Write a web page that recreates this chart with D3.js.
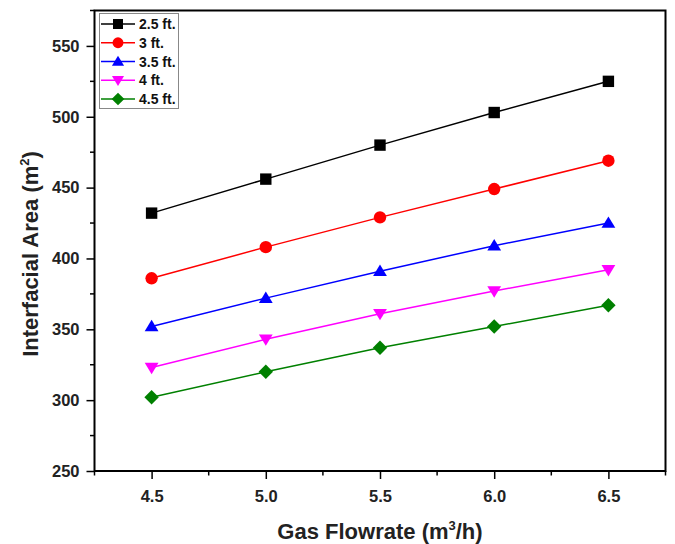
<!DOCTYPE html>
<html lang="en">
<head>
<meta charset="utf-8" />
<title>Interfacial Area vs Gas Flowrate</title>
<script src="https://cdn.jsdelivr.net/npm/d3@7"></script>
<style>
  body { margin: 0; background: #fff; }
  text { font-family: "Liberation Sans", Arial, sans-serif; font-weight: bold; }
</style>
</head>
<body>
<script>
// data
var flowrate = [4.5, 5.0, 5.5, 6.0, 6.5];
var seriesNames = ['2.5 ft.', '3 ft.', '3.5 ft.', '4 ft.', '4.5 ft.'];
var h25 = [432, 456, 480, 503, 525];
var h30 = [386, 408, 429, 449, 469];
var h35 = [352, 372, 391, 409, 425];
var h40 = [323, 343, 361, 377, 392];
var h45 = [302, 320, 337, 352, 367];
var colors = ['#000000', '#ff0000', '#0000ff', '#ff00ff', '#008000'];
var symbols = ['square', 'circle', 'up', 'down', 'diamond'];
var xTicks = [4.5, 5.0, 5.5, 6.0, 6.5];
var yTicks = [250, 300, 350, 400, 450, 500, 550];
var xMinor = [4.25, 4.75, 5.25, 5.75, 6.25, 6.75];
var yMinor = [275, 325, 375, 425, 475, 525, 575];

var allSeries = [h25, h30, h35, h40, h45];

var W = 675, H = 544;
var mL = 94.5, mR = 665.5, mT = 10.5, mB = 471;

var svg = d3.select('body').append('svg')
  .attr('width', W)
  .attr('height', H);

var x = d3.scaleLinear().domain([4.25, 6.75]).range([mL, mR]);
var y = d3.scaleLinear().domain([250, 575]).range([mB, mT]);

// minor ticks
svg.append('g').selectAll('line').data(xMinor).enter().append('line')
  .attr('x1', function(d) { return x(d); }).attr('x2', function(d) { return x(d); })
  .attr('y1', mB).attr('y2', mB + 4.5)
  .attr('stroke', '#000').attr('stroke-width', 1.5);
svg.append('g').selectAll('line').data(yMinor).enter().append('line')
  .attr('y1', function(d) { return y(d); }).attr('y2', function(d) { return y(d); })
  .attr('x1', mL).attr('x2', mL - 4.5)
  .attr('stroke', '#000').attr('stroke-width', 1.5);

var xAxis = svg.append('g')
  .attr('transform', 'translate(0,' + mB + ')')
  .call(d3.axisBottom(x).tickValues(xTicks).tickFormat(d3.format('.1f')).tickSize(8).tickPadding(11));
var yAxis = svg.append('g')
  .attr('transform', 'translate(' + mL + ',0)')
  .call(d3.axisLeft(y).tickValues(yTicks).tickSize(8).tickPadding(7));

[xAxis, yAxis].forEach(function(g) {
  g.select('.domain').remove();
  g.selectAll('line').attr('stroke-width', 1.5);
  g.selectAll('text').style('font-size', '16.5px').attr('fill', '#222');
});

// frame
svg.append('rect')
  .attr('x', mL).attr('y', mT)
  .attr('width', mR - mL).attr('height', mB - mT)
  .attr('fill', 'none').attr('stroke', '#000').attr('stroke-width', 2);

// marker shapes, r = half size
function marker(kind, r) {
  if (kind === 'square') return 'M' + (-r) + ',' + (-r) + 'H' + r + 'V' + r + 'H' + (-r) + 'Z';
  if (kind === 'circle') return d3.arc()({innerRadius: 0, outerRadius: r, startAngle: 0, endAngle: 2 * Math.PI});
  if (kind === 'up') return 'M0,' + (-r * 1.1) + 'L' + (r * 1.15) + ',' + (r * 0.8) + 'L' + (-r * 1.15) + ',' + (r * 0.8) + 'Z';
  if (kind === 'down') return 'M0,' + (r * 1.1) + 'L' + (r * 1.15) + ',' + (-r * 0.8) + 'L' + (-r * 1.15) + ',' + (-r * 0.8) + 'Z';
  var d = r * 1.2;
  return 'M0,' + (-d) + 'L' + d + ',0L0,' + d + 'L' + (-d) + ',0Z';
}
var markerSize = {square: 5.7, circle: 6.2, up: 6, down: 6, diamond: 6};

var line = d3.line()
  .x(function(d, i) { return x(flowrate[i]); })
  .y(function(d) { return y(d); });

allSeries.forEach(function(vals, k) {
  svg.append('path')
    .attr('d', line(vals))
    .attr('fill', 'none')
    .attr('stroke', colors[k])
    .attr('stroke-width', 1.5);
  svg.append('g').selectAll('path').data(vals).enter().append('path')
    .attr('d', marker(symbols[k], markerSize[symbols[k]]))
    .attr('transform', function(d, i) {
      return 'translate(' + x(flowrate[i]) + ',' + y(d) + ')';
    })
    .attr('fill', colors[k]);
});

// legend
var legend = svg.append('g');
legend.append('rect')
  .attr('x', 99.5).attr('y', 13.5).attr('width', 79).attr('height', 95)
  .attr('fill', '#fff').attr('stroke', '#888').attr('stroke-width', 1);
seriesNames.forEach(function(name, k) {
  var ly = 24 + k * 18.75;
  legend.append('line')
    .attr('x1', 101).attr('x2', 135).attr('y1', ly).attr('y2', ly)
    .attr('stroke', colors[k]).attr('stroke-width', 1.5);
  legend.append('path')
    .attr('d', marker(symbols[k], markerSize[symbols[k]] * 0.88))
    .attr('transform', 'translate(118,' + ly + ')')
    .attr('fill', colors[k]);
  legend.append('text')
    .attr('x', 139).attr('y', ly + 5)
    .style('font-size', '14px')
    .attr('fill', '#111')
    .text(name);
});

// axis titles
var xt = svg.append('text')
  .attr('x', (mL + mR) / 2).attr('y', 539)
  .attr('text-anchor', 'middle')
  .style('font-size', '22px').attr('fill', '#222');
xt.append('tspan').text('Gas Flowrate (m');
xt.append('tspan').attr('dy', -9).style('font-size', '13px').text('3');
xt.append('tspan').attr('dy', 9).text('/h)');

var yt = svg.append('text')
  .attr('transform', 'translate(38,254) rotate(-90)')
  .attr('text-anchor', 'middle')
  .style('font-size', '22px').attr('fill', '#222');
yt.append('tspan').text('Interfacial Area (m');
yt.append('tspan').attr('dy', -9).style('font-size', '13px').text('2');
yt.append('tspan').attr('dy', 9).text(')');
</script>
</body>
</html>
